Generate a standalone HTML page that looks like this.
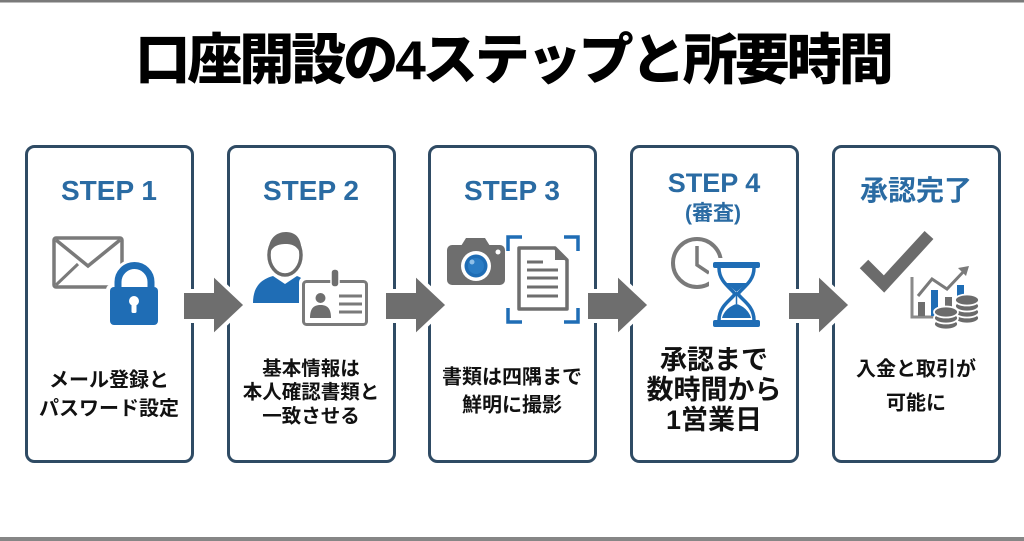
<!DOCTYPE html>
<html><head><meta charset="utf-8">
<style>
html,body{margin:0;padding:0;background:#fff;}
body{width:1024px;height:541px;overflow:hidden;position:relative;}
svg{position:absolute;left:0;top:0;}
.t{font-family:"Liberation Sans","Noto Sans CJK JP",sans-serif;font-weight:700;}
</style></head>
<body>
<svg width="1024" height="541" viewBox="0 0 1024 541" xmlns="http://www.w3.org/2000/svg">
<rect x="0" y="0" width="1024" height="541" fill="#ffffff"/>
<rect x="0" y="0" width="1024" height="2.5" fill="#7a7a7a"/>
<rect x="0" y="537" width="1024" height="4" fill="#868686"/>

<!-- Title -->
<text x="513" y="79" text-anchor="middle" class="t" style="font-weight:900;font-size:55px;letter-spacing:-3px;font-family:'Liberation Sans','Noto Sans CJK JP',sans-serif;" fill="#000">口座開設の4ステップと所要時間</text>

<!-- Boxes -->
<g fill="none" stroke="#2f4b64" stroke-width="3">
<rect x="26.5" y="146.5" width="166" height="315" rx="8"/>
<rect x="228.5" y="146.5" width="166" height="315" rx="8"/>
<rect x="429.5" y="146.5" width="166" height="315" rx="8"/>
<rect x="631.5" y="146.5" width="166" height="315" rx="8"/>
<rect x="833.5" y="146.5" width="166" height="315" rx="8"/>
</g>

<!-- Arrows -->
<g fill="#6e6e6e" stroke="#fff" stroke-width="4" stroke-linejoin="miter">
<polygon points="182,291 212,291 212,273 246,305 212,337 212,321 182,321"/>
<polygon points="384,291 414,291 414,273 448,305 414,337 414,321 384,321"/>
<polygon points="586,291 616,291 616,273 650,305 616,337 616,321 586,321"/>
<polygon points="787,291 817,291 817,273 851,305 817,337 817,321 787,321"/>
</g>

<!-- Headings -->
<g class="t" fill="#2a6ba3" text-anchor="middle">
<text x="109" y="200" font-size="28">STEP 1</text>
<text x="311" y="200" font-size="28">STEP 2</text>
<text x="512" y="200" font-size="28">STEP 3</text>
<text x="714" y="192" font-size="27">STEP 4</text>
<text x="713" y="220" font-size="21">(審査)</text>
<text x="916" y="200" font-size="28">承認完了</text>
</g>

<!-- Body texts -->
<g class="t" fill="#111" text-anchor="middle">
<text x="109" y="386.5" font-size="20">メール登録と</text>
<text x="109" y="415" font-size="20">パスワード設定</text>

<text x="311" y="375" font-size="19.5">基本情報は</text>
<text x="311" y="398.5" font-size="19.5">本人確認書類と</text>
<text x="311" y="422.5" font-size="19.5">一致させる</text>

<text x="512" y="383.5" font-size="20">書類は四隅まで</text>
<text x="512" y="411.5" font-size="20">鮮明に撮影</text>

<text x="714" y="369" font-size="27">承認まで</text>
<text x="714" y="399" font-size="27">数時間から</text>
<text x="714" y="429" font-size="27">1営業日</text>

<text x="916" y="375.5" font-size="20">入金と取引が</text>
<text x="916" y="409.5" font-size="20">可能に</text>
</g>

<!-- Icon 1: envelope + lock -->
<g>
<rect x="54" y="238" width="68" height="49" rx="2" fill="#fff" stroke="#7a7a7a" stroke-width="3.5"/>
<polyline points="56,240 88,266 120,240" fill="none" stroke="#7a7a7a" stroke-width="3.5"/>
<line x1="56" y1="285" x2="78" y2="264" stroke="#7a7a7a" stroke-width="3"/>
<path d="M118,288 V282 A16.5,16.5 0 0 1 151,282 V288" fill="none" stroke="#fff" stroke-width="13"/>
<rect x="106" y="284" width="56" height="45" rx="6" fill="#fff"/>
<path d="M118,289 V282 A16.5,16.5 0 0 1 151,282 V289" fill="none" stroke="#1f6db5" stroke-width="7"/>
<rect x="110" y="287" width="48" height="38" rx="4" fill="#1f6db5"/>
<circle cx="134" cy="301" r="5" fill="#fff"/>
<rect x="131.5" y="301" width="5" height="12" rx="1.5" fill="#fff"/>
</g>

<!-- Icon 2: person + ID card -->
<g>
<path d="M253,303 C253,286 262,279 273,276 L285,284 L297,276 C303,278 306,282 306,287 L306,303 Z" fill="#1f6db5"/>
<ellipse cx="285" cy="255" rx="16" ry="20" fill="#fff" stroke="#6b6b6b" stroke-width="3.5"/>
<path d="M269,255 C267,238 277,232 286,232 C296,232 303,239 301,255 C298,246 292,244 286,244 C278,244 272,246 269,255 Z" fill="#6b6b6b"/>
<rect x="299" y="277" width="72" height="52" rx="5" fill="#fff"/>
<rect x="303.5" y="281.5" width="63" height="43" rx="3" fill="#fff" stroke="#7a7a7a" stroke-width="3"/>
<rect x="331" y="269" width="8" height="18" rx="3.5" fill="#6e6e6e" stroke="#fff" stroke-width="1.5"/>
<circle cx="320.5" cy="298" r="5" fill="#6e6e6e"/>
<path d="M310,318 C310,308 314,305 320.5,305 C327,305 331,308 331,318 Z" fill="#6e6e6e"/>
<g stroke="#7a7a7a" stroke-width="3">
<line x1="339" y1="296" x2="362" y2="296"/>
<line x1="339" y1="304" x2="362" y2="304"/>
<line x1="339" y1="312" x2="362" y2="312"/>
</g>
</g>

<!-- Icon 3: camera + document -->
<g>
<polygon points="461,246 466,238 485,238 490,246" fill="#6e6e6e"/>
<rect x="447" y="245" width="58" height="40" rx="5" fill="#6e6e6e"/>
<circle cx="476" cy="266" r="15" fill="#fff"/>
<circle cx="476" cy="266" r="11.5" fill="#1f6db5"/>
<circle cx="476" cy="266" r="8" fill="#2a7cc4"/>
<circle cx="472" cy="262" r="2.5" fill="#8fc0e8"/>
<circle cx="498" cy="252" r="2.5" fill="#fff"/>
<g fill="none" stroke="#1f6db5" stroke-width="3.5">
<polyline points="508,251 508,237 522,237"/>
<polyline points="564,237 578,237 578,251"/>
<polyline points="508,308 508,322 522,322"/>
<polyline points="564,322 578,322 578,308"/>
</g>
<path d="M519,248 H555 L567,260 V309 H519 Z" fill="#fff" stroke="#6e6e6e" stroke-width="3.5" stroke-linejoin="round"/>
<polygon points="555,248 555,260 567,260" fill="#6e6e6e"/>
<g stroke="#6e6e6e" stroke-width="3">
<line x1="527" y1="262" x2="543" y2="262"/>
<line x1="527" y1="270" x2="558" y2="270"/>
<line x1="527" y1="278" x2="558" y2="278"/>
<line x1="527" y1="287" x2="558" y2="287"/>
<line x1="527" y1="296" x2="558" y2="296"/>
</g>
</g>

<!-- Icon 4: clock + hourglass -->
<g>
<circle cx="697" cy="263" r="24" fill="none" stroke="#7a7a7a" stroke-width="4"/>
<polyline points="697,246 697,265 709,273" fill="none" stroke="#7a7a7a" stroke-width="3.5"/>
<rect x="709" y="258" width="55" height="73" fill="#fff"/>
<rect x="713" y="262" width="47" height="6" rx="2" fill="#1f6db5"/>
<rect x="713" y="320" width="47" height="7" rx="2" fill="#1f6db5"/>
<path d="M719,268 C719,282 731,288 735,294 C731,300 719,306 719,320 M754,268 C754,282 742,288 738,294 C742,300 754,306 754,320" fill="none" stroke="#1f6db5" stroke-width="3.5"/>
<polygon points="726,283 747,283 736.5,292" fill="#1f6db5"/>
<line x1="736.5" y1="292" x2="736.5" y2="304" stroke="#1f6db5" stroke-width="1.5"/>
<path d="M722,318 C724,310 732,305 736.5,304 C741,305 749,310 751,318 Z" fill="#1f6db5"/>
</g>

<!-- Icon 5: check + chart + coins -->
<g>
<polyline points="864,264 884,284 929,235" fill="none" stroke="#6b6b6b" stroke-width="12" stroke-linejoin="miter"/>
<polyline points="912,277 912,317 934,317" fill="none" stroke="#8a8a8a" stroke-width="3"/>
<rect x="918" y="302" width="7" height="14" fill="#6e6e6e"/>
<rect x="931" y="290" width="7" height="26" fill="#1f6db5"/>
<rect x="945" y="297" width="7" height="10" fill="#6e6e6e"/>
<rect x="957" y="285" width="7" height="12" fill="#1f6db5"/>
<polyline points="918,296 932,279 947,289 965,270" fill="none" stroke="#7a7a7a" stroke-width="3"/>
<polygon points="969,266 958,268 966,276" fill="#7a7a7a"/>
<g fill="#6b6b6b" stroke="#fff" stroke-width="1.8">
<!-- right coin stack -->
<ellipse cx="967" cy="318" rx="12" ry="5.5"/>
<ellipse cx="967" cy="312" rx="12" ry="5.5"/>
<ellipse cx="967" cy="306" rx="12" ry="5.5"/>
<ellipse cx="967" cy="300" rx="12" ry="5.5"/>
<!-- left coin stack -->
<ellipse cx="946" cy="324" rx="12" ry="5.5"/>
<ellipse cx="946" cy="318" rx="12" ry="5.5"/>
<ellipse cx="946" cy="312" rx="12" ry="5.5"/>
</g>
</g>
</svg>
</body></html>
